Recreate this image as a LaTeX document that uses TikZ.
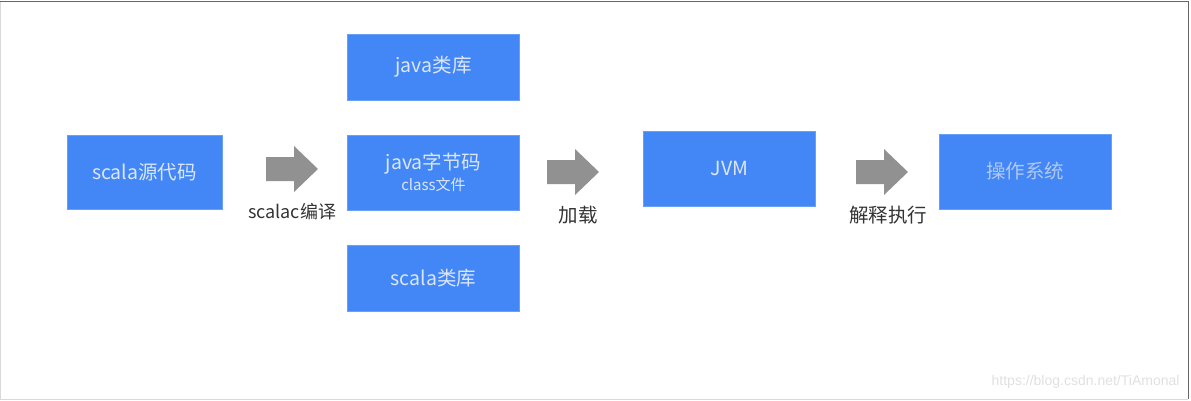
\documentclass[tikz,border=0pt]{standalone}
\usepackage{fontspec}
\newfontfamily\cjk{Noto Sans CJK SC}
\setsansfont{Liberation Sans}
\usetikzlibrary{positioning,calc}
\definecolor{boxBG}{HTML}{4287F5}
\definecolor{boxText}{HTML}{DCE6F8}
\definecolor{osText}{HTML}{AFC8F3}
\definecolor{arrowGray}{HTML}{919191}
\definecolor{lblText}{HTML}{333333}

\begin{document}
\begin{tikzpicture}[
  x=1pt,y=-1pt,
  every node/.style={font=\cjk\fontsize{19.5}{21}\selectfont},
  box/.style={fill=boxBG,draw=boxBG!80!white,minimum width=172pt,minimum height=75pt,
    inner sep=0pt,text=boxText},
  blk/.style={fill=arrowGray},
  lbl/.style={text=lblText,inner sep=0pt}
]
  \useasboundingbox (0,0) rectangle (1191,400);
  % frame
  \draw[black!15] (0,1)--(0,399)--(1188,399);
  \draw[black!60] (0,1)--(1188,1)--(1188,399);

  % --- boxes ---
  \node[box,minimum width=155pt,minimum height=74pt] (src) at (144.5,172) {scala源代码};
  \node[box] (jbc) at (433.5,172.5) {\shortstack{java字节码\\[0pt]{\fontsize{15}{16}\selectfont class文件}}};
  \node[box,minimum height=66pt] (jlib) at (433.5,67) {java类库};
  \node[box,minimum height=66pt] (slib) at (433.5,278) {scala类库};
  \node[box] (jvm) at (729.5,168.5) {JVM};
  \node[box,text=osText] (os) at (1025,171.5) {操作系统};

  % --- block arrows with their labels ---
  \foreach \n/\x/\y/\dx/\fs/\t in {a1/266/146/0/18/scalac编译, a2/547/149/5/19.5/加载, a3/856/149/6/19.5/解释执行}{
    \coordinate (\n) at (\x,\y);
    \fill[blk] (\n) ++(0,11) -- ++(28,0) -- ++(0,-11) -- ++(24,23) -- ++(-24,23)
      -- ++(0,-11) -- ++(-28,0) -- cycle;
    \coordinate (\n-s) at ($(\n)+(26+\dx,46)$);
    \node[lbl,below=11pt of \n-s,font=\cjk\fontsize{\fs}{20}\selectfont] (\n-l) {\t};
  }

  \node[text=black!12,font=\sffamily\fontsize{14}{16}\selectfont,anchor=east] (wm) at (1183,382) {https://blog.csdn.net/TiAmonal};
\end{tikzpicture}
\end{document}
